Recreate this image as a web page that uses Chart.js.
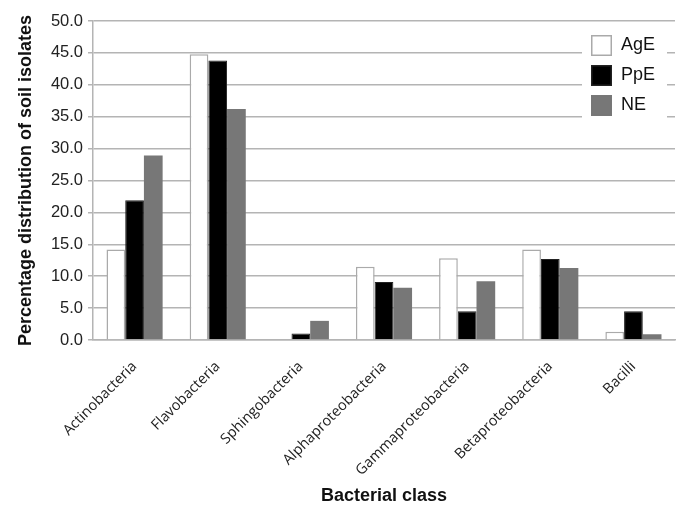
<!DOCTYPE html>
<html>
<head>
<meta charset="utf-8">
<script src="https://cdn.jsdelivr.net/npm/chart.js@4"></script>
<style>
  html, body { margin: 0; padding: 0; background: #fff; }
  #wrap { width: 683px; height: 507px; }
</style>
</head>
<body>
<div id="wrap"><canvas id="chart" width="683" height="507"></canvas></div>
<script>
const classes = ['Actinobacteria', 'Flavobacteria', 'Sphingobacteria', 'Alphaproteobacteria',
  'Gammaproteobacteria', 'Betaproteobacteria', 'Bacilli'];
const agE = [14.2, 44.8, 0, 11.5, 12.8, 14.2, 1.3];
const ppE = [21.9, 43.8, 1.0, 9.1, 4.5, 12.7, 4.5];
const nE = [28.9, 36.2, 3.0, 8.2, 9.2, 11.3, 0.9];

const gridGray = '#b4b4b4';

// legend drawn inside the plot, top right, on a white box
const boxLegend = {
  id: 'boxLegend',
  afterDatasetsDraw(chart) {
    const ctx = chart.ctx;
    const area = chart.chartArea;
    const x0 = area.right - 93, y0 = area.top + 4;
    ctx.save();
    ctx.fillStyle = '#fff';
    ctx.fillRect(x0, y0, 85, 104);
    chart.data.datasets.forEach((ds, i) => {
      const by = y0 + 10 + i * 30;
      ctx.fillStyle = ds.backgroundColor;
      ctx.fillRect(x0 + 9, by, 21, 21);
      ctx.lineWidth = 1.5;
      ctx.strokeStyle = ds.borderColor;
      ctx.strokeRect(x0 + 9.75, by + 0.75, 19.5, 19.5);
      ctx.fillStyle = '#111';
      ctx.font = '18px "Liberation Sans", Arial, sans-serif';
      ctx.textBaseline = 'middle';
      ctx.fillText(ds.label, x0 + 39, by + 10.5);
    });
    ctx.restore();
  }
};

const data = {
  labels: classes,
  datasets: [
    { label: 'AgE', data: agE, backgroundColor: '#ffffff', borderColor: '#aaaaaa', borderWidth: 1.5 },
    { label: 'PpE', data: ppE, backgroundColor: '#000000', borderColor: '#222222', borderWidth: 1 },
    { label: 'NE', data: nE, backgroundColor: '#777777', borderColor: '#777777', borderWidth: 0 }
  ]
};

const config = {
  type: 'bar',
  data: data,
  options: {
    responsive: false,
    animation: false,
    devicePixelRatio: 1,
    layout: { padding: { top: 21, right: 8, left: 15, bottom: 0 } },
    datasets: { bar: { categoryPercentage: 0.675, barPercentage: 1.0 } },
    scales: {
      x: {
        grid: { display: false },
        border: { color: gridGray, width: 1.5 },
        ticks: {
          maxRotation: 45, minRotation: 45,
          color: '#222',
          padding: 10,
          font: { family: '"Open Sans", sans-serif', size: 14.5 }
        },
        title: {
          display: true,
          text: 'Bacterial class',
          color: '#111',
          font: { family: '"Liberation Sans", Arial, sans-serif', size: 18, weight: 'bold' },
          padding: { top: 15, bottom: 0 }
        },
        afterFit: (s) => { s.height = 167; }
      },
      y: {
        min: 0, max: 50,
        ticks: {
          stepSize: 5,
          color: '#222',
          padding: 5,
          font: { family: '"Liberation Sans", Arial, sans-serif', size: 16.5 },
          callback: (v) => v.toFixed(1)
        },
        grid: { color: gridGray, lineWidth: 1.5, tickLength: 5 },
        border: { color: gridGray, width: 1.5 },
        title: {
          display: true,
          text: 'Percentage distribution of soil isolates',
          color: '#111',
          font: { family: '"Liberation Sans", Arial, sans-serif', size: 18, weight: 'bold' },
          padding: { top: 0, bottom: 4 }
        },
        afterFit: (s) => { s.width = 78; }
      }
    },
    plugins: {
      legend: { display: false },
      tooltip: { enabled: false }
    }
  },
  plugins: [boxLegend]
};

new Chart(document.getElementById('chart').getContext('2d'), config);
</script>
</body>
</html>
